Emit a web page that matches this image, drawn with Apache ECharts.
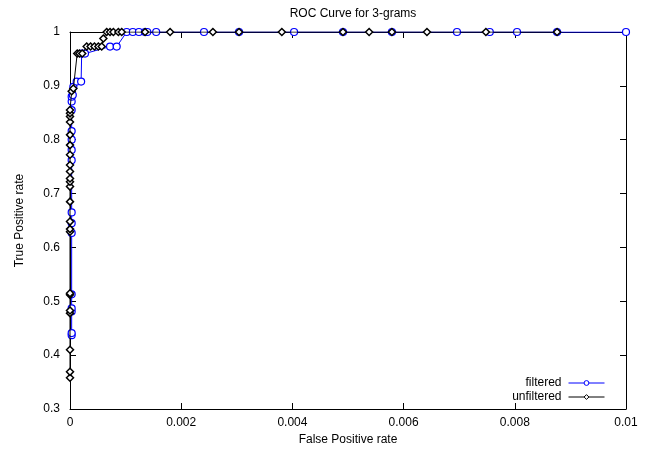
<!DOCTYPE html>
<html>
<head>
<meta charset="utf-8">
<script src="https://cdn.jsdelivr.net/npm/echarts@6/dist/echarts.min.js"></script>
<style>
  html, body { margin: 0; padding: 0; background: #fff; }
  #chart { width: 647px; height: 450px; }
</style>
</head>
<body>
<div id="chart"></div>
<script>
// ROC points: [false positive rate, true positive rate]
const filtered = [
  [0.00003, 0.437], [0.00003, 0.441], [0.00003, 0.481], [0.00003, 0.487], [0.00003, 0.513],
  [0.00003, 0.627], [0.00003, 0.645], [0.00003, 0.665], [0.00003, 0.762], [0.00003, 0.781],
  [0.00003, 0.800], [0.00003, 0.816], [0.00003, 0.855], [0.00003, 0.871], [0.00003, 0.880],
  [0.00005, 0.883], [0.00006, 0.898], [0.00012, 0.908], [0.00020, 0.908], [0.00021, 0.960],
  [0.00027, 0.960], [0.00072, 0.973], [0.00084, 0.973], [0.00102, 1], [0.00113, 1],
  [0.00124, 1], [0.00135, 1], [0.00139, 1], [0.00155, 1], [0.00241, 1], [0.00304, 1],
  [0.00403, 1], [0.00491, 1], [0.00579, 1], [0.00696, 1], [0.00755, 1], [0.00804, 1],
  [0.00876, 1], [0.01, 1]
];

const unfiltered = [
  [0, 0.358], [0, 0.369], [0, 0.410], [0, 0.478], [0, 0.483], [0, 0.512], [0, 0.515],
  [0, 0.629], [0, 0.634], [0, 0.648], [0, 0.685], [0, 0.713], [0, 0.722], [0, 0.728],
  [0, 0.741], [0, 0.753], [0, 0.772], [0, 0.790], [0, 0.809], [0, 0.833], [0, 0.843],
  [0, 0.849], [0, 0.855], [0.00003, 0.890], [0.00006, 0.895], [0.00013, 0.960],
  [0.00017, 0.960], [0.00022, 0.960], [0.00030, 0.973], [0.00037, 0.973], [0.00044, 0.973],
  [0.00051, 0.973], [0.00057, 0.973], [0.00060, 0.988], [0.00066, 1], [0.00072, 1],
  [0.00078, 1], [0.00087, 1], [0.00093, 1], [0.00135, 1], [0.00180, 1], [0.00257, 1],
  [0.00304, 1], [0.00381, 1], [0.00491, 1], [0.00538, 1], [0.00579, 1], [0.00642, 1],
  [0.00748, 1], [0.00876, 1]
];

const seriesNames = ['filtered', 'unfiltered'];

const font = 'Liberation Sans';
const chart = echarts.init(document.getElementById('chart'));

const xBase = {
  type: 'value', min: 0, max: 0.01, interval: 0.002,
  axisLine: { show: true, onZero: false, lineStyle: { color: '#000', width: 1 } },
  axisTick: { show: true, inside: true, length: 6, lineStyle: { color: '#000' } },
  splitLine: { show: false }
};
const yBase = {
  type: 'value', min: 0.3, max: 1, interval: 0.1,
  axisLine: { show: true, onZero: false, lineStyle: { color: '#000', width: 1 } },
  axisTick: { show: true, inside: true, length: 6, lineStyle: { color: '#000' } },
  splitLine: { show: false }
};

chart.setOption({
  animation: false,
  backgroundColor: '#fff',
  textStyle: { fontFamily: font },
  title: {
    text: 'ROC Curve for 3-grams',
    left: 348, top: 3, textAlign: 'center',
    textStyle: { fontFamily: font, fontSize: 12, fontWeight: 'normal', color: '#000' }
  },
  grid: { left: 70, right: 21, top: 32, bottom: 41, containLabel: false, outerBoundsMode: 'none' },
  legend: {
    data: seriesNames,
    orient: 'vertical',
    right: 37, top: 371,
    align: 'right',
    itemWidth: 36, itemHeight: 6, itemGap: 0,
    lineStyle: { width: 1 },
    itemStyle: { borderWidth: 1 },
    textStyle: { fontFamily: font, fontSize: 12, color: '#000', padding: [0, 2, 0, 0], lineHeight: 14 }
  },
  xAxis: [
    Object.assign({}, xBase, {
      position: 'bottom',
      name: 'False Positive rate', nameLocation: 'middle', nameGap: 24,
      nameTextStyle: { fontFamily: font, fontSize: 12, color: '#000' },
      axisLabel: { color: '#000', fontFamily: font, fontSize: 12, margin: 8 }
    }),
    Object.assign({}, xBase, { position: 'top', axisLabel: { show: false } })
  ],
  yAxis: [
    Object.assign({}, yBase, {
      position: 'left',
      name: 'True Positive rate', nameLocation: 'middle', nameGap: 44,
      nameTextStyle: { fontFamily: font, fontSize: 12, color: '#000' },
      axisLabel: { color: '#000', fontFamily: font, fontSize: 12, margin: 10 }
    }),
    Object.assign({}, yBase, { position: 'right', axisLabel: { show: false } })
  ],
  series: [
    {
      name: seriesNames[0], type: 'line', data: filtered,
      symbol: 'circle', symbolSize: 7, showAllSymbol: true,
      lineStyle: { color: '#0000ff', width: 1 },
      itemStyle: { color: '#fff', borderColor: '#0000ff', borderWidth: 1.2 },
      z: 2
    },
    {
      name: seriesNames[1], type: 'line', data: unfiltered,
      symbol: 'diamond', symbolSize: 7, showAllSymbol: true,
      lineStyle: { color: '#000', width: 1 },
      itemStyle: { color: '#fff', borderColor: '#000', borderWidth: 1.5 },
      z: 3
    }
  ]
});
</script>
</body>
</html>
